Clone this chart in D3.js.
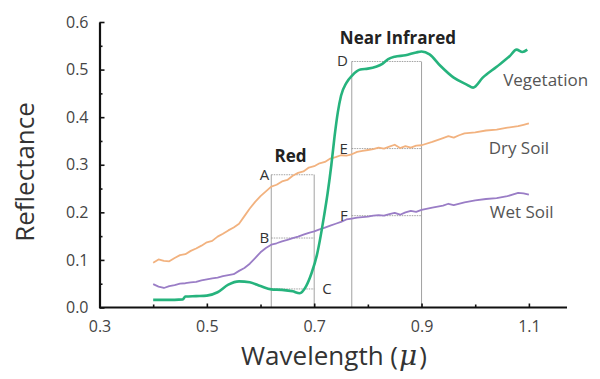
<!DOCTYPE html>
<html>
<head>
<meta charset="utf-8">
<script src="https://cdn.jsdelivr.net/npm/d3@7"></script>
<style>
  body { margin: 0; background: #fff; }
  svg { font-family: "Open Sans", sans-serif; }
</style>
</head>
<body>
<div id="chart"></div>
<script>
// spectral curves, [wavelength, reflectance]
var vegetation = [[0.40,0.016],[0.42,0.016],[0.44,0.016],[0.455,0.017],[0.46,0.023],[0.48,0.024],[0.50,0.025],[0.52,0.032],[0.54,0.048],[0.56,0.055],[0.58,0.053],[0.60,0.045],[0.62,0.038],[0.64,0.037],[0.66,0.034],[0.673,0.030],[0.685,0.045],[0.695,0.072],[0.705,0.11],[0.712,0.15],[0.718,0.19],[0.725,0.24],[0.732,0.30],[0.738,0.36],[0.744,0.41],[0.75,0.445],[0.76,0.472],[0.771,0.488],[0.786,0.50],[0.80,0.502],[0.815,0.506],[0.827,0.512],[0.838,0.522],[0.85,0.527],[0.87,0.530],[0.89,0.536],[0.90,0.538],[0.915,0.532],[0.935,0.508],[0.96,0.483],[0.985,0.468],[0.996,0.462],[1.014,0.483],[1.04,0.506],[1.064,0.528],[1.077,0.542],[1.088,0.537],[1.097,0.542]];

var drySoil = [[0.40,0.094],[0.41,0.101],[0.42,0.098],[0.43,0.097],[0.44,0.104],[0.45,0.110],[0.46,0.112],[0.47,0.119],[0.48,0.124],[0.49,0.130],[0.50,0.137],[0.51,0.140],[0.52,0.149],[0.53,0.155],[0.54,0.162],[0.55,0.168],[0.56,0.176],[0.57,0.192],[0.58,0.208],[0.59,0.222],[0.60,0.234],[0.61,0.244],[0.62,0.254],[0.63,0.258],[0.64,0.265],[0.65,0.268],[0.66,0.277],[0.67,0.283],[0.68,0.286],[0.69,0.294],[0.70,0.297],[0.71,0.303],[0.72,0.306],[0.73,0.313],[0.74,0.316],[0.75,0.320],[0.76,0.319],[0.77,0.322],[0.78,0.327],[0.79,0.329],[0.80,0.331],[0.81,0.333],[0.82,0.336],[0.83,0.334],[0.84,0.338],[0.85,0.342],[0.86,0.335],[0.87,0.339],[0.88,0.336],[0.89,0.340],[0.90,0.341],[0.92,0.348],[0.94,0.356],[0.95,0.360],[0.96,0.357],[0.97,0.362],[0.98,0.366],[1.00,0.368],[1.02,0.372],[1.04,0.374],[1.06,0.378],[1.08,0.381],[1.09,0.384],[1.10,0.387]];

var wetSoil = [[0.40,0.049],[0.41,0.044],[0.42,0.041],[0.43,0.045],[0.44,0.047],[0.45,0.050],[0.46,0.051],[0.47,0.053],[0.48,0.054],[0.49,0.057],[0.50,0.059],[0.51,0.061],[0.52,0.063],[0.53,0.066],[0.54,0.068],[0.55,0.070],[0.56,0.077],[0.57,0.083],[0.58,0.092],[0.59,0.104],[0.60,0.116],[0.61,0.125],[0.62,0.132],[0.63,0.135],[0.64,0.139],[0.65,0.142],[0.66,0.146],[0.67,0.149],[0.68,0.153],[0.69,0.157],[0.70,0.160],[0.71,0.164],[0.72,0.168],[0.73,0.172],[0.74,0.176],[0.75,0.180],[0.76,0.185],[0.77,0.187],[0.78,0.189],[0.79,0.190],[0.80,0.191],[0.81,0.193],[0.82,0.194],[0.83,0.193],[0.84,0.196],[0.85,0.199],[0.86,0.195],[0.87,0.200],[0.88,0.203],[0.89,0.201],[0.90,0.205],[0.92,0.210],[0.94,0.214],[0.95,0.218],[0.96,0.215],[0.98,0.221],[1.00,0.225],[1.02,0.228],[1.04,0.230],[1.06,0.234],[1.08,0.241],[1.09,0.240],[1.10,0.237]];

var xTickLabels = [0.3, 0.5, 0.7, 0.9, 1.1];
var xMinorTicks = [0.4, 0.6, 0.8, 1.0];
var yTickLabels = [0.0, 0.1, 0.2, 0.3, 0.4, 0.5, 0.6];
var yMinorTicks = [0.05, 0.15, 0.25, 0.35, 0.45, 0.55];

// bands: [from, to, top reflectance], marker levels
var redBand = [0.62, 0.70, 0.279];
var nirBand = [0.77, 0.90, 0.517];
var redMarks = [["A", 0.279], ["B", 0.146], ["C", 0.039]];
var nirMarks = [["D", 0.517], ["E", 0.334], ["F", 0.193]];

// series names with the point their label starts at
var seriesLabels = [["Vegetation", 1.052, 0.466], ["Dry Soil", 1.025, 0.323], ["Wet Soil", 1.027, 0.188]];

var width = 600, height = 379;
var margin = { top: 22, right: 33, bottom: 71.5, left: 99.5 };

var svg = d3.select("#chart")
    .append("svg")
    .attr("width", width)
    .attr("height", height);

var w = width - margin.left - margin.right;
var h = height - margin.top - margin.bottom;

var graph = svg.append("g")
    .attr("transform", "translate(" + margin.left + "," + margin.top + ")");

var x = d3.scaleLinear().domain([0.3, 1.171]).range([0, w]);
var y = d3.scaleLinear().domain([0, 0.6]).range([h, 0]);

// band guide lines
var guide = graph.append("g")
    .attr("stroke", "#8a8a8a")
    .attr("stroke-width", 0.8)
    .attr("fill", "none");

[redBand, nirBand].forEach(function(b) {
    guide.append("line").attr("x1", x(b[0])).attr("x2", x(b[0])).attr("y1", y(b[2])).attr("y2", h);
    guide.append("line").attr("x1", x(b[1])).attr("x2", x(b[1])).attr("y1", y(b[2])).attr("y2", h);
});
redMarks.forEach(function(m) {
    guide.append("line").attr("x1", x(redBand[0])).attr("x2", x(redBand[1]))
        .attr("y1", y(m[1])).attr("y2", y(m[1])).attr("stroke-dasharray", "1.5,1");
});
nirMarks.forEach(function(m) {
    guide.append("line").attr("x1", x(nirBand[0])).attr("x2", x(nirBand[1]))
        .attr("y1", y(m[1])).attr("y2", y(m[1])).attr("stroke-dasharray", "1.5,1");
});

// curves
var line = d3.line()
    .x(function(d) { return x(d[0]); })
    .y(function(d) { return y(d[1]); });

graph.append("path").datum(drySoil)
    .attr("fill", "none").attr("stroke", "#f2b27f").attr("stroke-width", 1.8)
    .attr("stroke-linejoin", "round").attr("d", line);

graph.append("path").datum(wetSoil)
    .attr("fill", "none").attr("stroke", "#9a7dc6").attr("stroke-width", 1.8)
    .attr("stroke-linejoin", "round").attr("d", line);

graph.append("path").datum(vegetation)
    .attr("fill", "none").attr("stroke", "#26b37d").attr("stroke-width", 2.6)
    .attr("stroke-linejoin", "round")
    .attr("d", line.curve(d3.curveMonotoneX));

// axes
var xAxis = graph.append("g").attr("transform", "translate(0," + h + ")");
xAxis.call(d3.axisBottom(x).tickValues(xTickLabels).tickSizeInner(-4).tickSizeOuter(0).tickFormat(d3.format(".1f")));
xAxis.append("g").call(d3.axisBottom(x).tickValues(xMinorTicks).tickSizeInner(-3).tickSizeOuter(0).tickFormat(""))
    .select(".domain").remove();

var yAxis = graph.append("g");
yAxis.call(d3.axisLeft(y).tickValues(yTickLabels).tickSizeInner(-5).tickSizeOuter(0).tickFormat(d3.format(".1f")));
yAxis.append("g").call(d3.axisLeft(y).tickValues(yMinorTicks).tickSizeInner(-3).tickSizeOuter(0).tickFormat(""))
    .select(".domain").remove();

[xAxis, yAxis].forEach(function(a) {
    a.selectAll(".domain").attr("stroke", "#111").attr("stroke-width", 2.2);
    a.selectAll(".tick line").attr("stroke", "#111").attr("stroke-width", 1.6);
    a.selectAll(".tick text").attr("fill", "#444").style("font-size", "16px").style("font-family", "Open Sans");
});
xAxis.selectAll(".domain").attr("d", "M0,0H" + w);
xAxis.selectAll(".tick text").attr("dy", null).attr("y", 24.5);
yAxis.selectAll(".tick text").attr("x", -11);

// axis titles
svg.append("text")
    .attr("transform", "translate(34,172) rotate(-90)")
    .attr("text-anchor", "middle")
    .attr("fill", "#333")
    .style("font-size", "26px")
    .text("Reflectance");

var xt = svg.append("text")
    .attr("x", 334).attr("y", 365)
    .attr("text-anchor", "middle")
    .attr("fill", "#333")
    .style("font-size", "26px");
xt.append("tspan").text("Wavelength (");
xt.append("tspan").attr("dx", 1).style("font-style", "italic").style("font-family", "DejaVu Serif").style("font-size", "28px").text("\u03bc");
xt.append("tspan").attr("dx", 2).text(")");

// band titles
graph.append("text").attr("x", x(0.656)).attr("y", 162 - margin.top)
    .attr("text-anchor", "middle").attr("fill", "#222")
    .style("font-size", "17px").style("font-weight", "bold").text("Red");
graph.append("text").attr("x", x(0.856)).attr("y", 44 - margin.top)
    .attr("text-anchor", "middle").attr("fill", "#222")
    .style("font-size", "17px").style("font-weight", "bold").text("Near Infrared");

// marker letters
redMarks.forEach(function(m) {
    var isC = m[0] === "C";
    graph.append("text")
        .attr("x", isC ? x(redBand[1]) + 8 : x(redBand[0]) - 2)
        .attr("y", y(m[1]) + 5)
        .attr("text-anchor", isC ? "start" : "end")
        .attr("fill", "#333").style("font-size", "15px").text(m[0]);
});
nirMarks.forEach(function(m) {
    graph.append("text")
        .attr("x", x(nirBand[0]) - 4).attr("y", y(m[1]) + 5)
        .attr("text-anchor", "end")
        .attr("fill", "#333").style("font-size", "15px").text(m[0]);
});

// series labels
seriesLabels.forEach(function(s) {
    graph.append("text")
        .attr("x", x(s[1])).attr("y", y(s[2]))
        .attr("fill", "#555").style("font-size", "17px").text(s[0]);
});
</script>
</body>
</html>
